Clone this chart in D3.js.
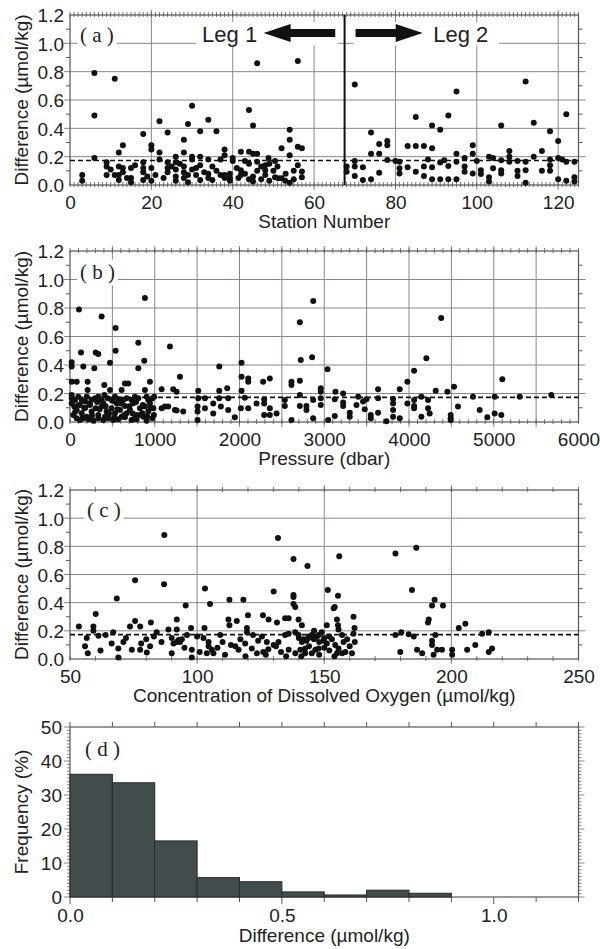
<!DOCTYPE html>
<html>
<head>
<meta charset="utf-8">
<script src="https://cdn.jsdelivr.net/npm/d3@7"></script>
<style>
  body { margin: 0; background: #fff; }
  text { font-family: "Liberation Sans", Arial, sans-serif; fill: #222; }
  .plabel { font-family: "Liberation Serif", "Times New Roman", serif; }
</style>
</head>
<body>
<script>
// ---- data ----

// (a) difference vs station number
const stationPts = [
  [3,0.07],[3,0.03],[6,0.79],[6,0.49],[6,0.19],[9,0.16],[9,0.13],[9,0.07],[11,0.75],[11,0.07],
  [12,0.23],[13,0.28],[12,0.13],[12,0.07],[12,0.035],[13,0.12],[13,0.09],[15,0.12],[15,0.05],[15,0.02],
  [18,0.36],[18,0.16],[18,0.12],[18,0.09],[18,0.035],[20,0.28],[20,0.25],[20,0.12],[20,0.03],
  [22,0.45],[22,0.23],[22,0.18],[24,0.37],[24,0.16],[24,0.12],[24,0.09],
  [26,0.20],[26,0.16],[26,0.11],[26,0.06],[26,0.03],[28,0.32],[28,0.23],[28,0.13],[28,0.09],[28,0.05],
  [29,0.43],[29,0.07],[29,0.02],[30,0.56],[30,0.20],[30,0.18],[30,0.11],[31,0.07],
  [32,0.38],[32,0.20],[32,0.14],[32,0.035],[34,0.46],[34,0.08],[34,0.05],[35,0.035],[34,0.18],
  [36,0.38],[36,0.10],[37,0.18],[38,0.25],[38,0.21],[38,0.07],[38,0.05],[39.3,0.08],[39.3,0.05],[39.3,0.03],
  [40,0.19],[40,0.17],[41.4,0.05],[42,0.235],[42,0.105],[42,0.07],[43,0.17],[44,0.53],[45,0.42],[44,0.235],
  [45,0.22],[44,0.04],[45,0.025],[46,0.86],[46,0.22],[46,0.165],[47,0.13],[48,0.14],[48,0.105],[48,0.07],
  [48.8,0.19],[50.4,0.17],[50.4,0.055],[51.2,0.047],[52,0.047],[52,0.26],[52.9,0.03],
  [54,0.39],[54,0.32],[54,0.21],[54,0.016],[56,0.875],[56,0.27],[57,0.26],[57,0.095],[57,0.055],
  [41,0.12],[43,0.08],[45,0.06],[46,0.10],[47,0.04],[49,0.03],[50,0.10],[51,0.13],[53,0.08],
  [55,0.10],[55,0.04],[56,0.14],[49,0.15],[44,0.15],[10,0.11],[14,0.05],[16,0.14],[19,0.06],
  [21,0.07],[23,0.05],[25,0.13],[27,0.15],[31,0.12],[33,0.09],[35,0.13],[37,0.07],
  [68,0.13],[68,0.094],[70,0.71],[70,0.13],[70,0.064],[70,0.17],[72,0.125],[72,0.035],
  [74,0.37],[74,0.22],[74,0.04],[76,0.29],[76,0.22],[76,0.087],[78,0.31],[78,0.28],[78,0.176],
  [80,0.17],[81,0.165],[81,0.118],[81,0.082],[83,0.275],[83,0.125],[85,0.48],[85,0.275],[85,0.094],
  [87,0.275],[87,0.13],[87,0.064],[88,0.18],[89,0.42],[89,0.26],[89,0.125],[89,0.04],
  [91,0.39],[91,0.158],[91,0.04],[92,0.175],[93,0.49],[93,0.134],[93,0.04],
  [95,0.66],[95,0.22],[95,0.165],[95,0.04],[97,0.19],[97,0.13],[97,0.094],
  [99,0.28],[99,0.22],[99,0.082],[100,0.17],[101,0.105],[101,0.078],[103,0.20],[103,0.054],[103,0.024],
  [104,0.19],[104,0.118],[106,0.42],[106,0.105],[106,0.082],[106,0.175],[108,0.24],[108,0.20],[108,0.165],
  [110,0.10],[110,0.064],[110,0.17],[112,0.73],[112,0.165],[112,0.105],[112,0.016],
  [114,0.44],[114,0.20],[116,0.24],[116,0.10],[118,0.38],[118,0.14],[118,0.10],[118,0.18],
  [120,0.31],[120,0.19],[120,0.04],[121,0.18],[122,0.50],[122,0.165],[122,0.03],
  [124,0.165],[124,0.054],[124,0.024]
];

// (b) difference vs pressure (dbar)
const pressurePts = [
  [106,0.79],[373,0.74],[538,0.66],[884,0.87],[2870,0.85],[2712,0.70],[4380,0.73],
  [806,0.557],[1179,0.53],[130,0.487],[303,0.487],[334,0.477],[538,0.50],[20,0.42],[20,0.39],
  [157,0.39],[287,0.377],[472,0.416],[806,0.377],[876,0.43],[1761,0.39],[2024,0.416],[2723,0.435],
  [2857,0.454],[4205,0.447],[3038,0.37],[4060,0.36],[5101,0.30],[1297,0.318],[2024,0.318],
  [2103,0.306],[2103,0.283],[2279,0.283],[2358,0.306],[2613,0.283],[2613,0.26],[2712,0.29],
  [3981,0.283],[20,0.283],[79,0.283],[208,0.283],[405,0.26],[648,0.27],[688,0.27],[943,0.283],
  [2959,0.236],[2959,0.213],[1081,0.23],[1218,0.23],[1258,0.213],[1761,0.22],[1855,0.236],
  [1513,0.22],[2024,0.22],[3132,0.213],[3223,0.20],[3635,0.23],[3891,0.23],[4315,0.22],
  [4453,0.213],[4531,0.248],[4146,0.178],[4755,0.178],[5011,0.178],[5306,0.178],[5679,0.19],
  [1120,0.108],[1258,0.08],[1336,0.073],[1505,0.108],[1505,0.073],[1505,0.014],[1592,0.096],
  [1690,0.13],[1690,0.06],[1780,0.108],[1867,0.084],[1945,0.033],[2016,0.096],[2103,0.096],
  [2201,0.13],[2291,0.13],[2291,0.05],[2358,0.096],[2358,0.05],[2437,0.06],[2535,0.112],
  [2613,0.014],[2712,0.112],[2790,0.112],[2790,0.084],[2869,0.026],[2959,0.12],[3046,0.014],
  [3124,0.042],[3223,0.136],[3223,0.112],[3301,0.065],[3301,0.037],[3380,0.12],[3458,0.143],
  [3478,0.089],[3549,0.026],[3549,0.05],[3635,0.065],[3734,0.006],[3812,0.13],[3812,0.084],
  [3812,0.037],[3891,0.026],[3981,0.13],[4060,0.112],[4060,0.096],[4146,0.037],[4225,0.096],
  [4244,0.06],[4492,0.05],[4492,0.026],[4492,0.014],[4578,0.108],[4834,0.084],[4924,0.033],
  [5011,0.06],[5089,0.05],
  [1513,0.166],[1592,0.166],[1761,0.166],[1867,0.166],[2063,0.17],[2291,0.159],[2535,0.154],
  [2712,0.19],[2869,0.154],[2959,0.166],[3124,0.159],[3400,0.178],[3498,0.159],[3635,0.166],
  [3812,0.162],[4060,0.154],[4225,0.154],
  [20,0.19],[20,0.166],[59,0.154],[98,0.178],[138,0.154],[177,0.143],[197,0.178],[208,0.225],
  [255,0.154],[295,0.166],[334,0.178],[373,0.154],[405,0.19],[444,0.166],[472,0.225],[491,0.154],
  [531,0.178],[570,0.159],[609,0.225],[629,0.154],[668,0.166],[727,0.154],[766,0.178],[806,0.166],
  [884,0.225],[904,0.178],[924,0.154],[971,0.166],[994,0.178],
  [20,0.131],[51,0.108],[79,0.084],[118,0.119],[138,0.061],[169,0.096],[197,0.037],[236,0.119],
  [255,0.073],[303,0.096],[334,0.049],[373,0.108],[393,0.131],[432,0.073],[452,0.026],[491,0.096],
  [531,0.061],[550,0.131],[590,0.084],[609,0.037],[648,0.112],[668,0.061],[707,0.084],[747,0.131],
  [766,0.026],[786,0.049],[825,0.096],[853,0.061],[884,0.108],[924,0.073],[943,0.131],[971,0.026],
  [983,0.096],
  [39,0.049],[79,0.026],[118,0.014],[157,0.026],[216,0.019],[275,0.009],[334,0.026],[393,0.014],
  [413,0.037],[511,0.014],[570,0.019],[648,0.033],[727,0.014],[786,0.019],[865,0.037],[904,0.009],
  [1081,0.096],[1159,0.108],[1238,0.084],
  [60,0.07],[100,0.12],[150,0.03],[180,0.10],[230,0.13],[260,0.045],[320,0.14],[350,0.09],
  [420,0.11],[460,0.06],[500,0.15],[520,0.03],[560,0.09],[600,0.13],[640,0.05],[700,0.11],
  [740,0.06],[780,0.14],[830,0.05],[860,0.12],[910,0.04],[950,0.10],[990,0.05]
];

// (c) difference vs dissolved oxygen (µmol/kg)
const oxygenPts = [
  [87.1,0.88],[131.8,0.86],[137.9,0.71],[143.4,0.66],[155.9,0.73],[178,0.75],[186.2,0.79],
  [75.6,0.56],[87,0.53],[68.4,0.43],[60.1,0.32],[103.1,0.50],[105.1,0.39],[95.5,0.38],[112.7,0.42],
  [118.2,0.42],[130.1,0.48],[137.9,0.455],[137.9,0.44],[137.9,0.39],[138.6,0.37],[151.4,0.49],
  [155.4,0.45],[154.1,0.37],[153.7,0.36],[184.5,0.49],[193.4,0.42],[192.4,0.38],[196.7,0.38],
  [191.1,0.28],[190.8,0.26],[205.5,0.25],[202.9,0.22],
  [53.5,0.23],[59.2,0.23],[59.2,0.20],[56.6,0.15],[55.9,0.09],[61.2,0.165],[66.4,0.11],[69,0.075],
  [69,0.01],[71,0.12],[73.6,0.23],[75.6,0.27],[77.6,0.23],[74.3,0.065],[77.6,0.065],[80.2,0.047],
  [81.8,0.26],[81.5,0.09],[84.1,0.19],[88.7,0.21],[92,0.21],[92,0.28],[90.7,0.11],[92,0.12],
  [93.3,0.12],[92.7,0.135],[90,0.04],[95,0.08],[97.9,0.065],[97.9,0.01],[97.6,0.22],[102.9,0.22],
  [102.5,0.15],[104.5,0.12],[104.5,0.09],[105.8,0.065],[106.4,0.04],[103.8,0.04],[109.1,0.17],
  [112.3,0.28],[112.7,0.24],[115.6,0.27],[120,0.31],[119.6,0.22],[119.6,0.19],[113.3,0.10],
  [115,0.09],[116.3,0.065],[118.9,0.11],[121.5,0.075],[123.5,0.04],[125.9,0.31],[128.1,0.28],
  [131.4,0.26],[125.5,0.16],[127.4,0.12],[130.1,0.10],[132,0.12],[134.6,0.17],[136,0.18],
  [134.6,0.29],[136,0.29],[139.9,0.28],[141.2,0.24],[138.6,0.19],[139.9,0.17],[141.2,0.12],
  [142.5,0.075],[143.8,0.15],[145.1,0.17],[145.8,0.15],[147.1,0.16],[147.8,0.17],[149.7,0.13],
  [136,0.065],[138.6,0.04],[140.6,0.065],[142.5,0.04],[145.1,0.04],[146.5,0.065],[147.8,0.075],
  [151,0.24],[155,0.28],[155.4,0.24],[155.6,0.21],[157,0.17],[157.6,0.12],[154.3,0.10],
  [155.6,0.075],[158.3,0.05],[155,0.04],[157,0.04],[161.5,0.30],[161.9,0.22],[161.5,0.18],
  [160.9,0.04],
  [178,0.17],[180.3,0.19],[179.9,0.05],[183.2,0.175],[185.2,0.16],[186.5,0.065],[188.5,0.04],
  [192.4,0.13],[192.4,0.10],[193.7,0.17],[194.4,0.065],[193,0.03],[196.3,0.065],[200.3,0.065],
  [200.3,0.03],[206.2,0.065],[209.4,0.10],[212.1,0.18],[214.7,0.19],[216,0.075],[214.7,0.05],
  [140,0.15],[142,0.14],[143,0.13],[144,0.16],[146,0.14],[148,0.12],[150,0.15],[151,0.11],
  [152,0.16],[153,0.14],[149,0.19],[146,0.20],[144,0.09],[150,0.08],[152,0.06],[133,0.05],
  [131,0.09],[128,0.07],[126,0.05],[124,0.13],[122,0.17],[117,0.14],[110,0.12],[108,0.08],
  [100,0.16],[96,0.17],[94,0.14],[90,0.15],[86,0.12],[83,0.16],[80,0.14],[78,0.11],[72,0.15],
  [64,0.17],[62,0.06],[57,0.04],[67,0.19],[101,0.05],[111,0.03],[119,0.02],[127,0.03],[135,0.02],
  [141,0.02],[148,0.03],[154,0.02],[159,0.14],[160,0.09],[162,0.12]
];

const meanDiff = 0.173;

// (d) histogram of differences
const binStarts = [0.0, 0.1, 0.2, 0.3, 0.4, 0.5, 0.6, 0.7, 0.8];
const binWidth = 0.1;
const freqPct = [36.1, 33.6, 16.5, 5.7, 4.5, 1.5, 0.6, 2.0, 1.1];

const diffTicks = [0.0, 0.2, 0.4, 0.6, 0.8, 1.0, 1.2];
const stationTicks = [0, 20, 40, 60, 80, 100, 120];
const pressureTicks = [0, 1000, 2000, 3000, 4000, 5000, 6000];
const oxygenTicks = [50, 100, 150, 200, 250];
const freqTicks = [0, 10, 20, 30, 40, 50];
const histTicks = [0.0, 0.5, 1.0];

// ---- drawing ----
const svg = d3.select("body").append("svg").attr("width", 600).attr("height", 949);

const L = 70, R = 578.5;
const frameCol = "#555", gridCol = "#8c8686";
const tickFont = "19px", titleFont = "19px", labelFont = 21;

function maskedText(g, x, y, str, cls, size) {
  const t = g.append("text").attr("x", x).attr("y", y).attr("class", cls)
    .style("font-size", size + "px").text(str);
  const b = t.node().getBBox();
  g.insert("rect", () => t.node())
    .attr("x", b.x - 3).attr("y", b.y).attr("width", b.width + 6).attr("height", b.height + 2)
    .attr("fill", "#fff");
  return t;
}

function scatterPanel(cfg) {
  const g = svg.append("g");
  const x = d3.scaleLinear().domain(cfg.xDomain).range([L, R]);
  const y = d3.scaleLinear().domain([0, 1.2]).range([cfg.bottom, cfg.top]);

  // grid
  g.selectAll(".hg").data([0.2, 0.4, 0.6, 0.8, 1.0]).join("line")
    .attr("x1", L - 6).attr("x2", R + 7).attr("y1", d => y(d)).attr("y2", d => y(d))
    .attr("stroke", gridCol).attr("stroke-width", 1);
  g.selectAll(".vg").data(cfg.grid).join("line")
    .attr("x1", d => x(d)).attr("x2", d => x(d)).attr("y1", cfg.top - 5).attr("y2", cfg.bottom + 5)
    .attr("stroke", gridCol).attr("stroke-width", 1);

  // minor ticks
  const mx = d3.range(cfg.xDomain[0], cfg.xDomain[1] + 1e-6, cfg.minor);
  g.selectAll(".mt").data(mx).join("line")
    .attr("x1", d => x(d)).attr("x2", d => x(d)).attr("y1", cfg.top - 3).attr("y2", cfg.top + 2)
    .attr("stroke", frameCol).attr("stroke-width", 0.8);
  g.selectAll(".mb").data(mx).join("line")
    .attr("x1", d => x(d)).attr("x2", d => x(d)).attr("y1", cfg.bottom - 3).attr("y2", cfg.bottom + 2)
    .attr("stroke", frameCol).attr("stroke-width", 0.8);
  const my = d3.range(0.1, 1.2, 0.2);
  g.selectAll(".myl").data(my).join("line")
    .attr("x1", L - 4).attr("x2", L).attr("y1", d => y(d)).attr("y2", d => y(d))
    .attr("stroke", frameCol);
  g.selectAll(".myr").data(my).join("line")
    .attr("x1", R).attr("x2", R + 4).attr("y1", d => y(d)).attr("y2", d => y(d))
    .attr("stroke", frameCol);

  // frame
  g.append("rect").attr("x", L).attr("y", cfg.top).attr("width", R - L).attr("height", cfg.bottom - cfg.top)
    .attr("fill", "none").attr("stroke", frameCol).attr("stroke-width", 1.2);

  if (cfg.extra) cfg.extra(g, x, y);

  // mean line
  g.append("line").attr("x1", L).attr("x2", R).attr("y1", y(meanDiff)).attr("y2", y(meanDiff))
    .attr("stroke", "#111").attr("stroke-width", 1.7).attr("stroke-dasharray", "5,3");

  // points
  g.selectAll("circle").data(cfg.points).join("circle")
    .attr("cx", d => x(d[0])).attr("cy", d => y(d[1])).attr("r", 3).attr("fill", "#111");

  // axes labels
  const ax = d3.axisBottom(x).tickValues(cfg.ticks).tickSize(0).tickPadding(0).tickFormat(d3.format("d"));
  const axg = g.append("g").attr("transform", `translate(0,${cfg.bottom + 24})`).call(ax);
  axg.select(".domain").remove();
  axg.selectAll("text").attr("dy", 0).style("font-size", tickFont).style("font-family", null).attr("fill", "#222");

  const ay = d3.axisLeft(y).tickValues(diffTicks).tickSize(0).tickPadding(0).tickFormat(d3.format(".1f"));
  const ayg = g.append("g").attr("transform", `translate(${L - 6},0)`).call(ay);
  ayg.select(".domain").remove();
  ayg.selectAll("text").attr("dy", "0.36em").style("font-size", tickFont).style("font-family", null).attr("fill", "#222");

  g.append("text").attr("x", (L + R) / 2).attr("y", cfg.bottom + 43).attr("text-anchor", "middle")
    .style("font-size", titleFont).text(cfg.xTitle);
  g.append("text").attr("transform", `translate(28,${(cfg.top + cfg.bottom) / 2}) rotate(-90)`)
    .attr("text-anchor", "middle").style("font-size", titleFont).text("Difference (\u00b5mol/kg)");

  maskedText(g, cfg.labelX, y(1.0) - 1, cfg.label, "plabel", labelFont);
  return { g, x, y };
}

// (a)
scatterPanel({
  top: 15, bottom: 185, xDomain: [0, 125], grid: [20, 40, 60, 80, 100, 120], minor: 1,
  ticks: stationTicks, points: stationPts, xTitle: "Station Number", label: "( a )", labelX: 80,
  extra: (g, x, y) => {
    const yc = y(1.073);
    const hl = 27, hh = 9, sh = 4;
    function arrow(tip, tail, dir) {
      const b = tip + dir * hl;
      return d3.line()([[tip, yc], [b, yc - hh], [b, yc - sh], [tail, yc - sh], [tail, yc + sh], [b, yc + sh], [b, yc + hh]]) + "Z";
    }
    g.append("rect").attr("x", x(31)).attr("y", yc - 11).attr("width", x(65.8) - x(31)).attr("height", y(1.0) - yc + 13).attr("fill", "#fff");
    g.append("rect").attr("x", x(69.6)).attr("y", yc - 11).attr("width", x(105.5) - x(69.6)).attr("height", y(1.0) - yc + 13).attr("fill", "#fff");
    g.append("line").attr("x1", x(67.5)).attr("x2", x(67.5)).attr("y1", y(0)).attr("y2", y(1.2))
      .attr("stroke", "#111").attr("stroke-width", 2);
    g.append("path").attr("d", arrow(x(47.6), x(65.2), 1)).attr("fill", "#111");
    g.append("path").attr("d", arrow(x(86.7), x(70.2), -1)).attr("fill", "#111");
    g.append("text").attr("x", x(46)).attr("y", y(1.0) - 1).attr("text-anchor", "end")
      .style("font-size", "22px").text("Leg 1");
    g.append("text").attr("x", x(89.3)).attr("y", y(1.0) - 1)
      .style("font-size", "22px").text("Leg 2");
  }
});

// (b)
scatterPanel({
  top: 251, bottom: 422, xDomain: [0, 6000], grid: d3.range(500, 6000, 500), minor: 100,
  ticks: pressureTicks, points: pressurePts, xTitle: "Pressure (dbar)", label: "( b )", labelX: 80
});

// (c)
scatterPanel({
  top: 490, bottom: 659, xDomain: [50, 250], grid: [100, 150, 200], minor: 10,
  ticks: oxygenTicks, points: oxygenPts, xTitle: "Concentration of Dissolved Oxygen (\u00b5mol/kg)",
  label: "( c )", labelX: 87
});

// (d) histogram
(function () {
  const top = 727, bottom = 897;
  const g = svg.append("g");
  const x = d3.scaleLinear().domain([0, 1.2]).range([L, R]);
  const y = d3.scaleLinear().domain([0, 50]).range([bottom, top]);

  const mx = d3.range(0, 1.2001, 0.1);
  g.selectAll(".tt").data(mx).join("line")
    .attr("x1", d => x(d)).attr("x2", d => x(d)).attr("y1", top - 5).attr("y2", top)
    .attr("stroke", frameCol);
  g.selectAll(".tb").data(mx).join("line")
    .attr("x1", d => x(d)).attr("x2", d => x(d)).attr("y1", bottom).attr("y2", d => bottom + (Math.abs(d * 2 - Math.round(d * 2)) < 1e-6 ? 7 : 5))
    .attr("stroke", frameCol);
  const my = d3.range(0, 50.001, 1);
  g.selectAll(".yl").data(my).join("line")
    .attr("x1", d => L - (d % 10 === 0 ? 6 : 3)).attr("x2", L).attr("y1", d => y(d)).attr("y2", d => y(d))
    .attr("stroke", frameCol).attr("stroke-width", 0.7);
  g.selectAll(".yr").data(my).join("line")
    .attr("x1", R).attr("x2", d => R + (d % 10 === 0 ? 6 : 3)).attr("y1", d => y(d)).attr("y2", d => y(d))
    .attr("stroke", frameCol).attr("stroke-width", 0.7);

  g.append("rect").attr("x", L).attr("y", top).attr("width", R - L).attr("height", bottom - top)
    .attr("fill", "none").attr("stroke", frameCol).attr("stroke-width", 1.2);

  g.selectAll(".bar").data(binStarts).join("rect")
    .attr("x", d => x(d)).attr("width", d => x(d + binWidth) - x(d))
    .attr("y", (d, i) => y(freqPct[i])).attr("height", (d, i) => y(0) - y(freqPct[i]))
    .attr("fill", "#434c4c").attr("stroke", "#262b2b").attr("stroke-width", 1);

  const ax = d3.axisBottom(x).tickValues(histTicks).tickSize(0).tickPadding(0).tickFormat(d3.format(".1f"));
  const axg = g.append("g").attr("transform", `translate(0,${bottom + 25})`).call(ax);
  axg.select(".domain").remove();
  axg.selectAll("text").attr("dy", 0).style("font-size", tickFont).style("font-family", null).attr("fill", "#222");

  const ay = d3.axisLeft(y).tickValues(freqTicks).tickSize(0).tickPadding(0).tickFormat(d3.format("d"));
  const ayg = g.append("g").attr("transform", `translate(${L - 8},0)`).call(ay);
  ayg.select(".domain").remove();
  ayg.selectAll("text").attr("dy", "0.36em").style("font-size", tickFont).style("font-family", null).attr("fill", "#222");

  g.append("text").attr("x", (L + R) / 2).attr("y", bottom + 45).attr("text-anchor", "middle")
    .style("font-size", titleFont).text("Difference (\u00b5mol/kg)");
  g.append("text").attr("transform", `translate(28,${(top + bottom) / 2}) rotate(-90)`)
    .attr("text-anchor", "middle").style("font-size", titleFont).text("Frequency (%)");

  g.append("text").attr("x", 85).attr("y", 756).attr("class", "plabel").style("font-size", labelFont + "px").text("( d )");
})();
</script>
</body>
</html>
